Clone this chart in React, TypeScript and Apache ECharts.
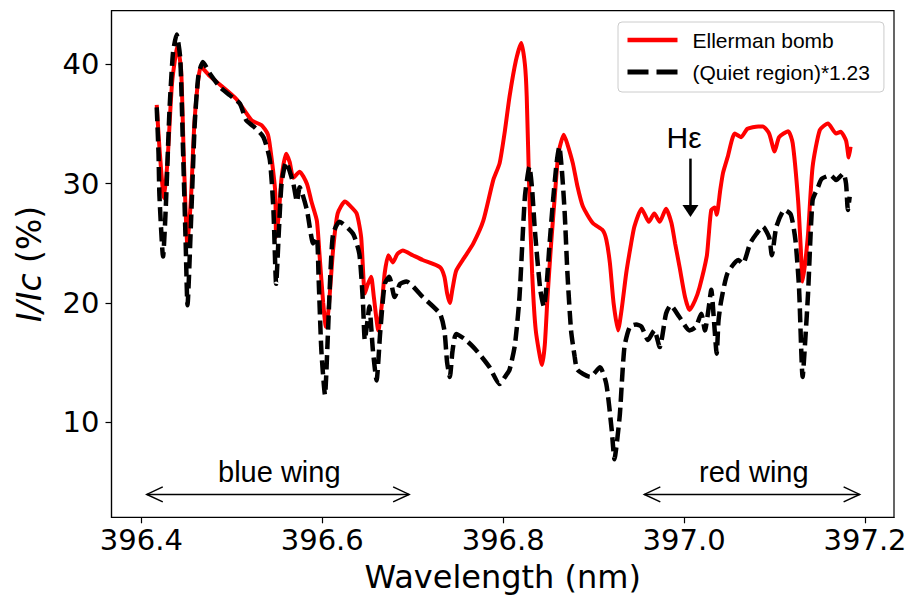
import React, { useEffect, useRef } from 'react';
import * as echarts from 'echarts';

// Ellerman bomb profile (red solid)
const ebWavelength = [
  396.417, 396.420, 396.425, 396.429, 396.434, 396.440, 396.444, 396.447, 396.451, 396.455,
  396.459, 396.466, 396.476, 396.487, 396.505, 396.522, 396.533, 396.540, 396.544, 396.548,
  396.549, 396.552, 396.555, 396.560, 396.564, 396.568, 396.575, 396.583, 396.588, 396.594,
  396.597, 396.601, 396.604, 396.607, 396.612, 396.617, 396.625, 396.630, 396.638, 396.643,
  396.647, 396.650, 396.654, 396.657, 396.662, 396.666, 396.669, 396.673, 396.678, 396.683,
  396.689, 396.700, 396.711, 396.730, 396.735, 396.738, 396.741, 396.744, 396.748, 396.757,
  396.767, 396.778, 396.789, 396.796, 396.802, 396.807, 396.814, 396.820, 396.824, 396.826,
  396.829, 396.832, 396.836, 396.843, 396.846, 396.849, 396.853, 396.857, 396.861, 396.867,
  396.871, 396.877, 396.882, 396.888, 396.899, 396.910, 396.914, 396.918, 396.922, 396.927,
  396.931, 396.936, 396.941, 396.945, 396.953, 396.956, 396.961, 396.967, 396.973, 396.980,
  396.986, 396.990, 396.995, 397.001, 397.006, 397.012, 397.017, 397.025, 397.027, 397.030,
  397.034, 397.036, 397.040, 397.043, 397.048, 397.056, 397.063, 397.070, 397.082, 397.087,
  397.094, 397.100, 397.105, 397.115, 397.120, 397.126, 397.129, 397.131, 397.134, 397.137,
  397.142, 397.150, 397.159, 397.168, 397.173, 397.179, 397.182, 397.184,
];
const ebIntensity = [
  36.6, 33.0, 28.8, 32.0, 38.5, 41.5, 39.5, 32.0, 24.8, 29.0,
  35.5, 39.8, 39.0, 38.3, 37.1, 35.3, 34.9, 34.1, 32.1, 29.3,
  25.5, 27.5, 30.5, 32.5, 31.8, 30.5, 31.0, 30.0, 28.5, 26.9,
  24.0, 20.0, 18.0, 19.5, 24.5, 27.5, 28.5, 28.2, 27.5, 25.5,
  20.8, 21.5, 22.2, 20.5, 17.7, 20.0, 22.5, 24.0, 23.4, 24.1,
  24.4, 24.0, 23.6, 23.0, 22.2, 20.8, 20.0, 21.2, 22.7, 23.8,
  25.0, 26.9, 30.3, 31.7, 34.5, 37.3, 40.3, 41.8, 40.0, 37.3,
  28.9, 22.5, 17.7, 14.8, 16.5, 20.5, 25.0, 28.9, 32.5, 34.1,
  33.3, 31.7, 29.8, 28.1, 26.7, 26.1, 25.3, 23.3, 20.0, 17.7,
  19.5, 22.5, 24.8, 26.4, 27.9, 27.5, 26.8, 27.5, 26.8, 27.9,
  26.7, 25.0, 23.0, 20.5, 19.4, 20.2, 21.3, 23.9, 25.5, 27.8,
  28.0, 27.4, 29.5, 30.9, 32.2, 34.2, 33.9, 34.6, 34.8, 34.8,
  34.2, 32.7, 33.9, 34.4, 33.4, 28.6, 24.5, 21.8, 23.5, 25.8,
  31.4, 34.5, 35.05, 34.2, 34.35, 33.6, 32.2, 33.1,
];

// Quiet region profile scaled by 1.23 (black dashed)
const quietWavelength = [
  396.417, 396.419, 396.420, 396.424, 396.427, 396.431, 396.435, 396.439, 396.443, 396.446,
  396.449, 396.451, 396.455, 396.459, 396.463, 396.468, 396.476, 396.487, 396.498, 396.509,
  396.516, 396.524, 396.535, 396.542, 396.546, 396.549, 396.552, 396.555, 396.560, 396.568,
  396.572, 396.575, 396.583, 396.590, 396.594, 396.596, 396.599, 396.603, 396.606, 396.609,
  396.612, 396.619, 396.634, 396.641, 396.645, 396.647, 396.650, 396.652, 396.656, 396.660,
  396.664, 396.669, 396.674, 396.680, 396.686, 396.693, 396.711, 396.730, 396.735, 396.738,
  396.741, 396.744, 396.748, 396.757, 396.767, 396.776, 396.785, 396.796, 396.802, 396.807,
  396.813, 396.818, 396.824, 396.829, 396.832, 396.835, 396.841, 396.845, 396.848, 396.851,
  396.855, 396.859, 396.862, 396.865, 396.868, 396.871, 396.875, 396.879, 396.882, 396.896,
  396.907, 396.914, 396.920, 396.923, 396.926, 396.929, 396.934, 396.940, 396.947, 396.953,
  396.960, 396.967, 396.973, 396.980, 396.985, 396.995, 397.006, 397.013, 397.019, 397.023,
  397.027, 397.030, 397.033, 397.036, 397.038, 397.041, 397.048, 397.060, 397.065, 397.073,
  397.080, 397.087, 397.094, 397.097, 397.102, 397.111, 397.118, 397.123, 397.127, 397.131,
  397.134, 397.137, 397.142, 397.148, 397.152, 397.162, 397.168, 397.176, 397.179, 397.181,
  397.183,
];
const quietIntensity = [
  36.4, 32.5, 29.0, 23.9, 28.0, 36.0, 41.0, 42.5, 40.5, 33.0,
  25.0, 19.8, 27.0, 35.0, 39.0, 40.2, 39.2, 38.1, 37.4, 36.7,
  35.3, 34.8, 33.9, 32.0, 27.8, 21.6, 26.0, 30.0, 31.8, 30.0,
  28.5, 29.7, 27.8, 25.0, 25.5, 22.0, 16.0, 12.3, 17.0, 22.5,
  25.8, 26.8, 25.8, 24.1, 20.0, 16.9, 18.5, 19.7, 16.0, 13.5,
  17.5, 21.6, 22.2, 20.5, 21.6, 21.8, 20.5, 19.1, 17.7, 15.0,
  13.8, 16.0, 17.4, 17.0, 16.3, 15.5, 14.6, 13.2, 13.8, 14.4,
  16.5, 20.5, 28.9, 31.4, 29.5, 26.1, 21.1, 19.7, 21.5, 24.7,
  28.5, 31.7, 33.1, 31.0, 27.5, 22.5, 17.7, 15.5, 14.4, 13.8,
  14.6, 13.2, 9.3, 6.9, 8.5, 10.7, 16.3, 18.0, 18.2, 18.0,
  16.9, 17.7, 16.3, 19.1, 19.8, 18.8, 17.7, 18.0, 19.1, 17.7,
  19.5, 21.1, 18.5, 15.75, 18.5, 20.2, 22.5, 23.6, 23.3, 25.0,
  25.8, 26.4, 25.5, 24.0, 26.4, 27.8, 27.4, 25.3, 21.3, 13.8,
  17.0, 20.8, 28.6, 29.7, 30.4, 30.7, 30.3, 30.85, 30.0, 27.8,
  28.9,
];

const xTicks = [396.4, 396.6, 396.8, 397.0, 397.2];
const yTicks = [10, 20, 30, 40];
const seriesNames = ['Ellerman bomb', '(Quiet region)*1.23'];

// annotations in data coordinates
const blueWing = { label: 'blue wing', from: 396.406, to: 396.696, arrowY: 3.95, textX: 396.5525, textY: 5.8 };
const redWing = { label: 'red wing', from: 396.956, to: 397.194, arrowY: 3.95, textX: 397.077, textY: 5.8 };
const hEps = { label: 'H\u03b5', textX: 397.0, textY: 33.9, arrowX: 397.007, arrowTop: 32.1, arrowTip: 27.2 };

const zip = (xs: number[], ys: number[]) => xs.map((x, i) => [x, ys[i]]);

export default function App() {
  const ref = useRef<HTMLDivElement>(null);
  useEffect(() => {
    const chart = echarts.init(ref.current!, null, { renderer: 'svg' });
    const axisColor = '#000';
    const option: any = {
      animation: false,
      backgroundColor: '#fff',
      grid: {
        left: 111.5, right: 16, top: 10.7, bottom: 81.7,
        show: true, borderColor: axisColor, borderWidth: 1.2, backgroundColor: 'transparent',
      },
      legend: {
        left: 618, top: 22, orient: 'vertical',
        itemWidth: 50, itemHeight: 14, itemGap: 10,
        padding: [7, 14, 9, 7],
        borderColor: '#cccccc', borderWidth: 1, borderRadius: 4, backgroundColor: '#ffffff',
        textStyle: { fontFamily: 'Liberation Sans', fontSize: 21, color: '#000', lineHeight: 22, padding: [0, 0, 0, 10] },
        data: [
          { name: seriesNames[0], itemStyle: { opacity: 0 }, lineStyle: { color: '#ff0000', width: 4.5, type: 'solid' } },
          { name: seriesNames[1], itemStyle: { opacity: 0 }, lineStyle: { color: '#000000', width: 5, type: [21, 8], cap: 'butt' } },
        ],
      },
      xAxis: {
        type: 'value', min: 396.367, max: 397.232,
        axisLine: { show: true, lineStyle: { color: axisColor, width: 1.2 } },
        axisTick: { show: true, customValues: xTicks, length: 6, lineStyle: { color: axisColor, width: 1.2 } },
        axisLabel: {
          customValues: xTicks, formatter: (v: number) => v.toFixed(1),
          fontFamily: 'DejaVu Sans', fontSize: 29, color: '#000', margin: 8,
        },
        splitLine: { show: false },
        name: 'Wavelength (nm)', nameLocation: 'middle', nameGap: 44,
        nameTextStyle: { fontFamily: 'DejaVu Sans', fontSize: 32, color: '#000' },
      },
      yAxis: {
        type: 'value', min: 2.03, max: 44.5,
        axisLine: { show: true, lineStyle: { color: axisColor, width: 1.2 } },
        axisTick: { show: true, customValues: yTicks, length: 6, lineStyle: { color: axisColor, width: 1.2 } },
        axisLabel: {
          customValues: yTicks, fontFamily: 'DejaVu Sans', fontSize: 29, color: '#000', margin: 12,
        },
        splitLine: { show: false },
        name: '{it|I/Ic} (%)', nameLocation: 'middle', nameGap: 66,
        nameTextStyle: {
          fontFamily: 'DejaVu Sans', fontSize: 33, color: '#000',
          rich: { it: { fontFamily: 'DejaVu Sans', fontStyle: 'italic', fontSize: 33, color: '#000' } },
        },
      },
      series: [
        {
          type: 'line', name: seriesNames[0], data: zip(ebWavelength, ebIntensity),
          symbol: 'none', showSymbol: false, smooth: 0.2,
          lineStyle: { color: '#ff0000', width: 4 }, itemStyle: { color: '#ff0000' }, z: 2,
        },
        {
          type: 'line', name: seriesNames[1], data: zip(quietWavelength, quietIntensity),
          symbol: 'none', showSymbol: false, smooth: 0.2,
          lineStyle: { color: '#000000', width: 4.5, type: [14, 6], cap: 'butt' }, itemStyle: { color: '#000000' }, z: 3,
        },
      ],
    };
    chart.setOption(option);

    const p = (x: number, y: number) => chart.convertToPixel({ gridIndex: 0 }, [x, y]) as number[];
    const head = 16, half = 7.5;
    const dbl = (w: typeof blueWing) => {
      const a = p(w.from, w.arrowY), b = p(w.to, w.arrowY);
      const st = { stroke: '#000', lineWidth: 1.5, fill: 'none' };
      const t = p(w.textX, w.textY);
      return [
        { type: 'line', shape: { x1: a[0], y1: a[1], x2: b[0], y2: b[1] }, style: st, z: 10 },
        { type: 'polyline', shape: { points: [[a[0] + head, a[1] - half], [a[0], a[1]], [a[0] + head, a[1] + half]] }, style: st, z: 10 },
        { type: 'polyline', shape: { points: [[b[0] - head, b[1] - half], [b[0], b[1]], [b[0] - head, b[1] + half]] }, style: st, z: 10 },
        { type: 'text', x: t[0], y: t[1], style: { text: w.label, fontFamily: 'Liberation Sans', fontSize: 29, fill: '#000', align: 'center', verticalAlign: 'middle' }, z: 10 },
      ];
    };
    const ht = p(hEps.textX, hEps.textY);
    const hTop = p(hEps.arrowX, hEps.arrowTop);
    const hTip = p(hEps.arrowX, hEps.arrowTip);
    const graphic: any[] = [
      ...dbl(blueWing),
      ...dbl(redWing),
      { type: 'text', x: ht[0], y: ht[1], style: { text: hEps.label, fontFamily: 'Liberation Sans', fontSize: 30, fill: '#000', align: 'center', verticalAlign: 'middle' }, z: 10 },
      { type: 'line', shape: { x1: hTop[0], y1: hTop[1], x2: hTip[0], y2: hTip[1] - 10 }, style: { stroke: '#000', lineWidth: 2.5 }, z: 10 },
      { type: 'polygon', shape: { points: [[hTip[0] - 8, hTip[1] - 12], [hTip[0] + 8, hTip[1] - 12], [hTip[0], hTip[1]]] }, style: { fill: '#000' }, z: 10 },
    ];
    chart.setOption({ graphic });

    return () => chart.dispose();
  }, []);
  return <div ref={ref} style={{ position: 'fixed', left: 0, top: 0, width: 910, height: 599 }} />;
}
